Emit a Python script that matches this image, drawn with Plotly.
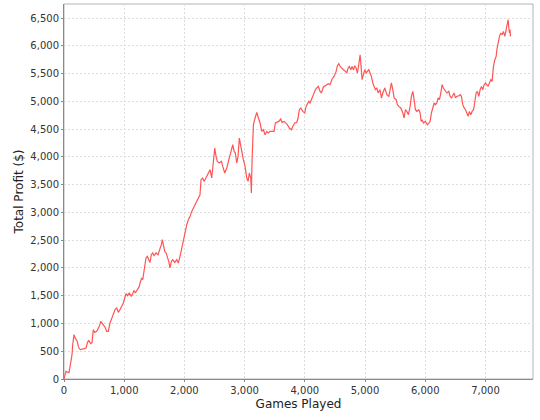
import plotly.graph_objects as go

games = [
    0, 33, 83, 100, 116, 133, 145, 155, 166, 183, 199, 221, 238, 254, 277, 321,
    366, 387, 410, 444, 465, 487, 510, 543, 565, 587, 610, 631, 653, 681, 709,
    736, 764, 798, 831, 852, 876, 902, 930, 959, 985, 1009, 1030, 1052, 1085,
    1118, 1141, 1163, 1185, 1218, 1251, 1263, 1291, 1308, 1329, 1346, 1362,
    1384, 1407, 1429, 1450, 1474, 1495, 1529, 1562, 1595, 1617, 1633, 1650,
    1673, 1695, 1716, 1740, 1761, 1783, 1806, 1839, 1873, 1899, 1927, 1949,
    1972, 1994, 2015, 2039, 2065, 2094, 2122, 2138, 2193, 2259, 2276, 2304,
    2326, 2348, 2371, 2404, 2426, 2454, 2481, 2504, 2525, 2547, 2580, 2614,
    2637, 2670, 2703, 2736, 2770, 2803, 2825, 2846, 2869, 2891, 2912, 2936,
    2957, 2979, 3007, 3036, 3057, 3079, 3102, 3112, 3124, 3135, 3146, 3174,
    3202, 3229, 3257, 3285, 3311, 3340, 3368, 3394, 3423, 3456, 3489, 3511,
    3534, 3567, 3600, 3622, 3655, 3689, 3710, 3743, 3777, 3800, 3833, 3866,
    3888, 3909, 3933, 3966, 3999, 4021, 4043, 4066, 4087, 4109, 4132, 4154,
    4175, 4199, 4225, 4253, 4275, 4308, 4342, 4365, 4391, 4420, 4453, 4486,
    4520, 4541, 4564, 4586, 4607, 4641, 4674, 4697, 4719, 4740, 4764, 4785,
    4807, 4830, 4852, 4873, 4896, 4918, 4935, 4951, 4973, 4996, 5018, 5039,
    5063, 5084, 5106, 5129, 5151, 5172, 5196, 5217, 5250, 5272, 5295, 5328,
    5362, 5395, 5417, 5438, 5461, 5483, 5516, 5538, 5561, 5594, 5628, 5649,
    5671, 5694, 5721, 5749, 5770, 5794, 5815, 5837, 5860, 5893, 5915, 5932,
    5948, 5970, 6003, 6036, 6060, 6081, 6103, 6126, 6148, 6169, 6193, 6214,
    6236, 6259, 6280, 6302, 6325, 6359, 6392, 6413, 6435, 6458, 6480, 6501,
    6525, 6558, 6580, 6601, 6624, 6646, 6668, 6691, 6712, 6734, 6757, 6779,
    6801, 6812, 6829, 6845, 6867, 6890, 6912, 6934, 6957, 6978, 7000, 7023,
    7045, 7066, 7090, 7111, 7123, 7133, 7156, 7178, 7190, 7211, 7233, 7256,
    7277, 7299, 7322, 7344, 7365, 7377, 7389, 7399, 7410, 7415,
]
profit = [
    0, 137, 113, 221, 348, 438, 618, 744, 798, 744, 708, 677, 587, 546, 528,
    540, 558, 648, 695, 636, 654, 888, 839, 857, 900, 947, 1037, 1008, 960,
    936, 857, 857, 1008, 1098, 1188, 1260, 1278, 1199, 1248, 1307, 1368, 1458,
    1536, 1500, 1548, 1487, 1559, 1595, 1548, 1620, 1667, 1729, 1819, 1788,
    1937, 2027, 2179, 2207, 2148, 2099, 2238, 2269, 2220, 2269, 2238, 2328,
    2418, 2508, 2388, 2298, 2269, 2207, 2117, 1999, 2117, 2148, 2099, 2148,
    2089, 2207, 2328, 2449, 2568, 2688, 2778, 2868, 2928, 3018, 3048, 3174,
    3318, 3589, 3619, 3558, 3601, 3648, 3709, 3769, 3619, 3949, 4159, 4008,
    3918, 3889, 3918, 3828, 3709, 3799, 3949, 4069, 4219, 4098, 4069, 3889,
    4008, 4339, 4188, 4069, 3949, 3828, 3619, 3558, 3709, 3619, 3349, 3949,
    4429, 4579, 4699, 4800, 4699, 4609, 4458, 4489, 4399, 4458, 4429, 4458,
    4458, 4458, 4609, 4620, 4638, 4681, 4620, 4638, 4609, 4579, 4519, 4489,
    4548, 4609, 4620, 4699, 4849, 4880, 4818, 4790, 4908, 4970, 4998, 4970,
    5029, 5119, 5179, 5209, 5240, 5269, 5179, 5150, 5258, 5281, 5299, 5317,
    5299, 5402, 5449, 5539, 5641, 5677, 5629, 5600, 5569, 5539, 5510, 5600,
    5629, 5569, 5629, 5569, 5641, 5600, 5510, 5659, 5839, 5629, 5389, 5479,
    5569, 5510, 5539, 5569, 5510, 5449, 5330, 5269, 5209, 5240, 5150, 5209,
    5060, 5150, 5240, 5119, 5089, 5209, 5330, 5209, 5060, 5029, 4939, 4908,
    4880, 4790, 4699, 4849, 4818, 4759, 4908, 5089, 5179, 5029, 4849, 4818,
    4849, 4790, 4638, 4669, 4609, 4638, 4579, 4609, 4638, 4790, 4908, 4970,
    4939, 4970, 5060, 5029, 5150, 5299, 5240, 5209, 5150, 5179, 5089, 5060,
    5119, 5150, 5060, 5089, 5101, 5119, 5089, 4939, 4880, 4849, 4790, 4729,
    4818, 4759, 4818, 4849, 4908, 5029, 5150, 5179, 5089, 5209, 5269, 5209,
    5299, 5330, 5299, 5269, 5330, 5389, 5359, 5510, 5629, 5749, 5809, 5929,
    6050, 6169, 6230, 6199, 6259, 6169, 6289, 6410, 6469, 6320, 6230, 6289,
    6169,
]

y_ticks = list(range(0, 7000, 500))
x_ticks = list(range(0, 8000, 1000))

FONT = "DejaVu Sans, Lucida Sans, sans-serif"

fig = go.Figure()
fig.add_trace(
    go.Scatter(
        x=games,
        y=profit,
        mode="lines",
        line={"color": "#FF5555", "width": 1.2},
        showlegend=False,
    )
)

axis_common = dict(
    showgrid=True,
    gridcolor="#dcdcdc",
    griddash="2px,2px",
    gridwidth=1,
    zeroline=False,
    showline=True,
    linecolor="#888899",
    linewidth=1,
    ticks="outside",
    ticklen=2,
    tickcolor="#888888",
    tickformat=",d",
    tickfont={"family": FONT, "size": 10, "color": "#333333"},
    automargin=False,
)

fig.update_xaxes(
    range=[0, 7790],
    tickvals=x_ticks,
    title={"text": "Games Played", "font": {"family": FONT, "size": 12, "color": "#222222"}, "standoff": 4},
    **axis_common,
)
fig.update_yaxes(
    range=[0, 6752],
    tickvals=y_ticks,
    title={"text": "Total Profit ($)", "font": {"family": FONT, "size": 12, "color": "#222222"}, "standoff": 4},
    **axis_common,
)

# light outline on the top and right edges of the plot area
fig.add_shape(
    type="rect", xref="paper", yref="paper", x0=0, y0=0, x1=1, y1=1,
    line={"color": "#b4b4b4", "width": 1}, layer="below",
)

fig.update_layout(
    width=540,
    height=420,
    margin={"l": 64, "r": 7, "t": 4, "b": 41},
    plot_bgcolor="white",
    paper_bgcolor="white",
)

# drop the page's default body margin so the chart sits at the window corner
fig.write_html(
    "out.html",
    config={"displayModeBar": False},
    post_script="document.body.style.margin = '0';",
)
